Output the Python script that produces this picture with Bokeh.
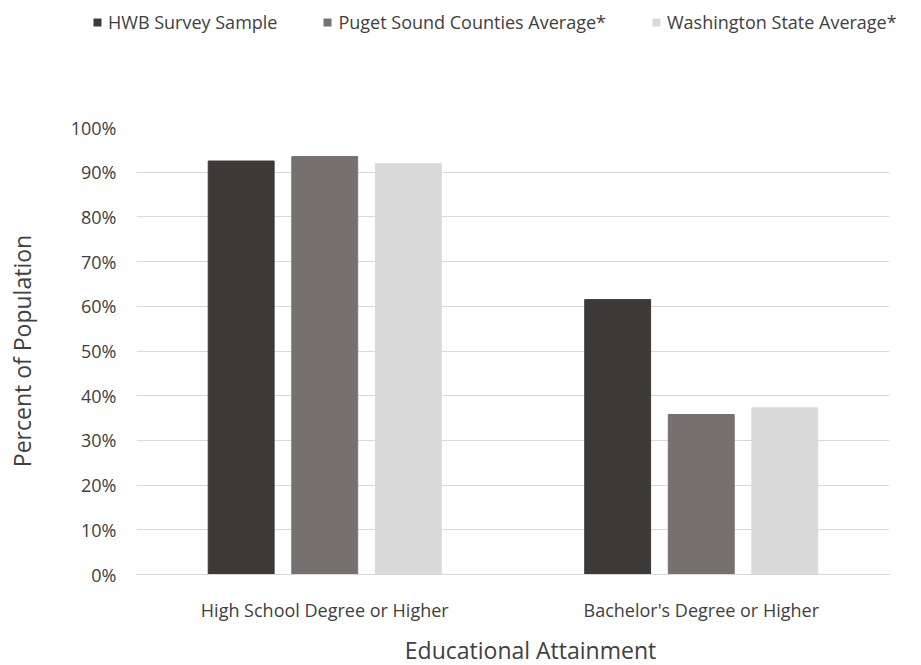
import math
from bokeh.plotting import figure
from bokeh.layouts import column
from bokeh.models import ColumnDataSource, Legend, LegendItem, NumeralTickFormatter, FixedTicker, Label
from bokeh.transform import dodge
from bokeh.embed import file_html
from bokeh.resources import INLINE

categories = ["High School Degree or Higher", "Bachelor's Degree or Higher"]
series_names = ["HWB Survey Sample", "Puget Sound Counties Average*", "Washington State Average*"]
hwb = [0.925, 0.615]
puget = [0.935, 0.358]
washington = [0.919, 0.373]
colors = ["#3b3a38", "#767170", "#d9d9d9"]
y_ticks = [0, 0.1, 0.2, 0.3, 0.4, 0.5, 0.6, 0.7, 0.8, 0.9, 1.0]
x_title = "Educational Attainment"
y_title = "Percent of Population"

source = ColumnDataSource(dict(cat=categories, hwb=hwb, puget=puget, wa=washington))

FONT = "Open Sans"
TXT = "#404040"
W = 921
LEG_H = 40
BOT_H = 40
MAIN_H = 665 - LEG_H - BOT_H


def strip(height):
    f = figure(width=W, height=height, x_range=(0, 1), y_range=(0, 1),
               x_axis_type=None, y_axis_type=None, output_backend="svg",
               toolbar_location=None, min_border=0)
    f.outline_line_color = None
    f.xgrid.grid_line_color = None
    f.ygrid.grid_line_color = None
    f.frame_align = False
    return f


# ---------- legend strip ----------
lg = strip(LEG_H)
# zero-size proxies that only supply the legend swatches
dummies = [lg.vbar(x=[0.5], bottom=[0], top=[0], width=0, fill_color=c, line_color=None)
           for c in colors]
legend = Legend(items=[LegendItem(label=n, renderers=[d]) for n, d in zip(series_names, dummies)],
                orientation="horizontal", location=(92, 6),
                glyph_width=10, glyph_height=10, label_standoff=6, spacing=45,
                padding=0, margin=0, border_line_color=None, background_fill_alpha=0,
                label_text_font=FONT, label_text_font_size="18px", label_text_color=TXT,
                label_height=24)
lg.add_layout(legend, "center")

# ---------- main chart ----------
p = figure(x_range=categories, y_range=(0, 1), width=W, height=MAIN_H,
           output_backend="svg", toolbar_location=None,
           min_border_left=136, min_border_right=32, min_border_top=127 - LEG_H,
           min_border_bottom=MAIN_H - (574 - LEG_H))
p.frame_align = False

step = 0.222
bw = 0.175
p.vbar(x=dodge("cat", -step, range=p.x_range), top="hwb", width=bw, source=source,
       fill_color=colors[0], line_color=colors[0])
p.vbar(x=dodge("cat", 0, range=p.x_range), top="puget", width=bw, source=source,
       fill_color=colors[1], line_color=colors[1])
p.vbar(x=dodge("cat", step, range=p.x_range), top="wa", width=bw, source=source,
       fill_color=colors[2], line_color=colors[2])

p.outline_line_color = None
p.xgrid.grid_line_color = None
p.ygrid.grid_line_color = "#d9d9d9"
p.ygrid.grid_line_width = 1
p.ygrid.level = "underlay"

p.yaxis.ticker = FixedTicker(ticks=y_ticks)
p.yaxis.formatter = NumeralTickFormatter(format="0%")
p.yaxis.axis_line_color = None
p.yaxis.major_tick_line_color = None
p.yaxis.minor_tick_line_color = None
p.yaxis.major_tick_out = 0
p.yaxis.major_label_standoff = 20
p.yaxis.axis_label = y_title
p.yaxis.axis_label_standoff = 30
p.yaxis.axis_label_text_font = FONT
p.yaxis.axis_label_text_font_size = "23px"
p.yaxis.axis_label_text_font_style = "normal"
p.yaxis.axis_label_text_color = TXT

p.xaxis.axis_line_color = "#d9d9d9"
p.xaxis.major_tick_line_color = None
p.xaxis.major_tick_out = 0
p.xaxis.major_label_standoff = 23

for ax in (p.xaxis[0], p.yaxis[0]):
    ax.major_label_text_font = FONT
    ax.major_label_text_font_size = "18px"
    ax.major_label_text_color = TXT

# ---------- x-axis title strip ----------
bt = strip(BOT_H)
bt.add_layout(Label(x=530 / W, y=15.5 / BOT_H, text=x_title,
                    text_font=FONT, text_font_size="23px", text_color=TXT,
                    text_align="center", text_baseline="middle"))

open("out.html", "w").write(file_html(column(lg, p, bt, spacing=0), INLINE))
